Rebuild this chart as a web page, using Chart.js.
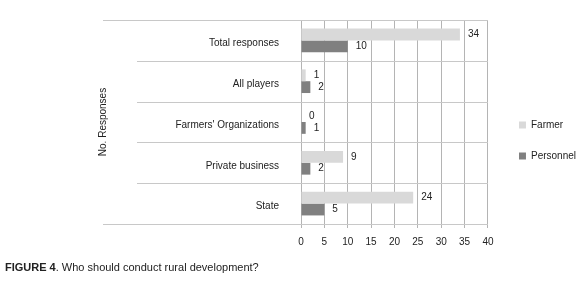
<!DOCTYPE html>
<html>
<head>
<meta charset="utf-8">
<script src="https://cdn.jsdelivr.net/npm/chart.js@4.4.0/dist/chart.umd.min.js"></script>
<style>
body{margin:0;background:#fff;}
#wrap{position:relative;width:577px;height:284px;}
#cap{position:absolute;left:5px;top:261px;font:11px 'Liberation Sans',Arial,sans-serif;color:#222;}
#cap b{font-weight:bold;}
</style>
</head>
<body>
<div id="wrap">
<canvas id="c1" width="577" height="284"></canvas>
<div id="cap"><b>FIGURE 4</b>. Who should conduct rural development?</div>
</div>
<script>
var categories = ['Total responses', 'All players', "Farmers' Organizations", 'Private business', 'State'];
var farmer = [34, 1, 0, 9, 24];
var personnel = [10, 2, 1, 2, 5];
var xTicks = [0, 5, 10, 15, 20, 25, 30, 35, 40];

var narrow = "'Liberation Sans',Arial,sans-serif";

// numbers at the end of each bar
var valueLabels = {
  id: 'valueLabels',
  afterDatasetsDraw: function(chart) {
    var ctx = chart.ctx;
    ctx.save();
    ctx.font = '10px ' + narrow;
    ctx.fillStyle = '#222';
    ctx.textBaseline = 'middle';
    chart.data.datasets.forEach(function(ds, di) {
      chart.getDatasetMeta(di).data.forEach(function(bar, i) {
        ctx.fillText(ds.data[i], bar.x + 8, bar.y);
      });
    });
    ctx.restore();
  }
};

// category separator lines reaching into the label area
var catLines = {
  id: 'catLines',
  beforeDatasetsDraw: function(chart) {
    var y = chart.scales.y, ctx = chart.ctx;
    ctx.save();
    ctx.strokeStyle = '#c8c8c8';
    ctx.lineWidth = 1;
    for (var i = 0; i <= categories.length; i++) {
      var py = Math.round(y.getPixelForValue(i - 0.5)) + 0.5;
      var left = (i == 0 || i == categories.length) ? y.left + 6 : y.left + 40;
      ctx.beginPath();
      ctx.moveTo(left, py);
      ctx.lineTo(chart.chartArea.right, py);
      ctx.stroke();
    }
    ctx.restore();
  }
};

// push the legend a bit right and down, away from the plot
var legendShift = {
  id: 'legendShift',
  afterLayout: function(chart) {
    var l = chart.legend;
    l.left += 10; l.right += 10;
    l.top += 3; l.bottom += 3;
  }
};

var ctx = document.getElementById('c1').getContext('2d');
var chart = new Chart(ctx, {
  type: 'bar',
  data: {
    labels: categories,
    datasets: [{
      label: 'Farmer',
      backgroundColor: '#d9d9d9',
      data: farmer
    }, {
      label: 'Personnel',
      backgroundColor: '#808080',
      data: personnel
    }]
  },
  options: {
    indexAxis: 'y',
    responsive: false,
    animation: false,
    categoryPercentage: 0.58,
    barPercentage: 1,
    layout: { padding: { left: 97, right: 1, top: 19, bottom: 28 } },
    scales: {
      x: {
        min: 0,
        max: 40,
        afterBuildTicks: function(s) { s.ticks = xTicks.map(function(v) { return { value: v }; }); },
        grid: { color: '#b4b4b4', drawTicks: true, tickLength: 4 },
        border: { display: false },
        ticks: { color: '#222', font: { family: narrow, size: 10 }, padding: 8 }
      },
      y: {
        grid: { display: false },
        border: { color: '#b4b4b4' },
        afterFit: function(s) { s.width = 204; },
        ticks: { color: '#222', font: { family: narrow, size: 10 }, padding: 14, labelOffset: 3 },
        title: { display: true, text: 'No. Responses', color: '#222', font: { family: narrow, size: 10 }, padding: 0 }
      }
    },
    plugins: {
      legend: {
        position: 'right',
        labels: { boxWidth: 7, boxHeight: 7, color: '#222', padding: 21, font: { family: narrow, size: 10 } }
      },
      tooltip: { enabled: false }
    }
  },
  plugins: [catLines, valueLabels, legendShift]
});
</script>
</body>
</html>
